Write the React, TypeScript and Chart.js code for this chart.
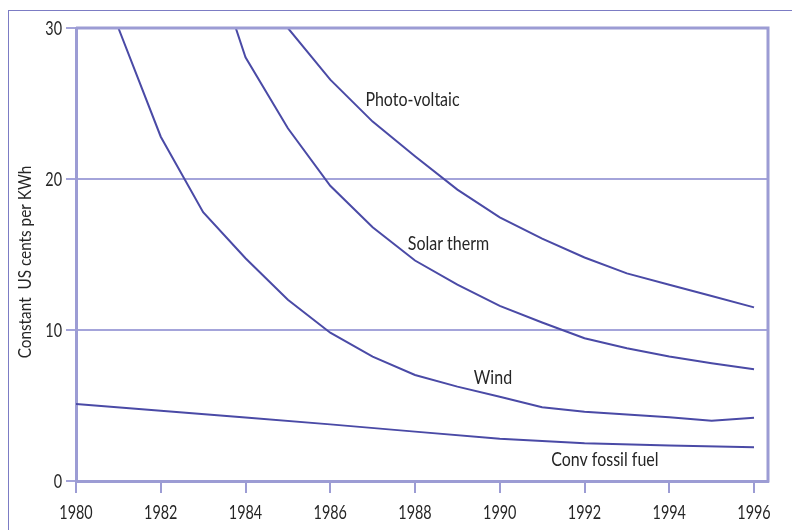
import React, { useEffect, useRef } from "react";
import { Chart, registerables } from "chart.js";

Chart.register(...registerables);

const years = [1980, 1981, 1982, 1983, 1984, 1985, 1986, 1987, 1988, 1989, 1990, 1991, 1992, 1993, 1994, 1995, 1996];
const photoVoltaic = [null, null, null, null, null, 30, 26.58, 23.8, 21.5, 19.3, 17.46, 16.05, 14.8, 13.75, 13.0, 12.25, 11.5];
const solarTherm = [null, null, null, 36.5, 28.06, 23.36, 19.55, 16.8, 14.6, 13.0, 11.6, 10.5, 9.45, 8.79, 8.25, 7.8, 7.4];
const wind = [null, 30, 22.8, 17.8, 14.75, 12.0, 9.82, 8.23, 7.02, 6.25, 5.58, 4.88, 4.59, 4.4, 4.22, 3.99, 4.19];
const fossil = [5.1, null, 4.65, null, 4.2, null, 3.75, null, 3.27, null, 2.8, null, 2.5, null, 2.35, null, 2.23];

const xTicks = [1980, 1982, 1984, 1986, 1988, 1990, 1992, 1994, 1996];
const yTicks = [0, 10, 20, 30];

const seriesLabels = ["Photo-voltaic", "Solar therm", "Wind", "Conv fossil fuel"];
const labelYears = [1987.94, 1988.79, 1989.84, 1992.48];
const labelValues = [24.83, 15.3, 6.4, 0.99];

const yTitle = "Constant  US cents per KWh";

const LINE = "#4a4aa6";
const AXIS = "#9c9cd4";
const GRID = "#a4a4da";
const TEXT = "#262626";
const FONT = "Lato, 'Open Sans', sans-serif";

const toPoints = (vals: (number | null)[]) =>
  years.map((y, i) => ({ x: y, y: vals[i] as any }));

function squeezedText(ctx: CanvasRenderingContext2D, text: string, x: number, y: number, align: CanvasTextAlign, k: number) {
  ctx.save();
  ctx.translate(x, y);
  ctx.scale(k, 1);
  ctx.textAlign = align;
  ctx.fillText(text, 0, 0);
  ctx.restore();
}

export default function App() {
  const ref = useRef<HTMLCanvasElement | null>(null);

  useEffect(() => {
    if (!ref.current) return;
    const annot = {
      id: "annot",
      beforeDraw(chart: any) {
        const ctx = chart.ctx;
        ctx.save();
        ctx.fillStyle = "#ffffff";
        ctx.fillRect(0, 0, chart.width, chart.height);
        ctx.strokeStyle = "#7c7cc4";
        ctx.lineWidth = 1;
        ctx.strokeRect(8.5, 10.5, 900, 900);
        ctx.restore();
      },
      afterDraw(chart: any) {
        const ctx = chart.ctx;
        const { left, right, top, bottom } = chart.chartArea;
        const xs = chart.scales.x;
        const ys = chart.scales.y;
        ctx.save();
        ctx.strokeStyle = AXIS;
        ctx.lineWidth = 3;
        ctx.beginPath();
        ctx.moveTo(left, top);
        ctx.lineTo(right, top);
        ctx.lineTo(right, bottom + 1.5);
        ctx.stroke();

        ctx.fillStyle = TEXT;
        ctx.textBaseline = "alphabetic";
        ctx.font = "20px " + FONT;
        xTicks.forEach((v) => {
          squeezedText(ctx, String(v), xs.getPixelForValue(v), bottom + 38, "center", 0.72);
        });
        yTicks.forEach((v) => {
          squeezedText(ctx, String(v), left - 14, ys.getPixelForValue(v) + 7, "right", 0.72);
        });

        ctx.font = "20px " + FONT;
        seriesLabels.forEach((s, i) => {
          squeezedText(ctx, s, xs.getPixelForValue(labelYears[i]), ys.getPixelForValue(labelValues[i]), "center", 0.8);
        });

        ctx.save();
        ctx.translate(26, ys.getPixelForValue(14.5));
        ctx.rotate(-Math.PI / 2);
        ctx.textBaseline = "middle";
        ctx.font = "17px " + FONT;
        squeezedText(ctx, yTitle, 0, 0, "center", 0.9);
        ctx.restore();
        ctx.restore();
      },
    };

    const ds = (label: string, vals: (number | null)[]) => ({
      label,
      data: toPoints(vals),
      borderColor: LINE,
      borderWidth: 2,
      pointRadius: 0,
      tension: 0,
      spanGaps: true,
      fill: false,
    });

    const chart = new Chart(ref.current, {
      type: "line",
      data: {
        datasets: [
          ds("Photo-voltaic", photoVoltaic),
          ds("Solar therm", solarTherm),
          ds("Wind", wind),
          ds("Conv fossil fuel", fossil),
        ],
      },
      options: {
        responsive: false,
        animation: false,
        devicePixelRatio: 1,
        layout: { padding: { top: 28, right: 24, left: 0, bottom: 0 } },
        plugins: { legend: { display: false }, tooltip: { enabled: false } },
        scales: {
          x: {
            type: "linear",
            min: 1980,
            max: 1996.33,
            afterFit: (s: any) => { s.height = 49; },
            afterBuildTicks: (s: any) => { s.ticks = xTicks.map((v) => ({ value: v })); },
            border: { display: true, color: AXIS, width: 3 },
            grid: { drawOnChartArea: false, drawTicks: true, tickLength: 12, color: AXIS, lineWidth: 2 },
            ticks: { display: false },
          },
          y: {
            type: "linear",
            min: 0,
            max: 30,
            afterFit: (s: any) => { s.width = 76; },
            afterBuildTicks: (s: any) => { s.ticks = yTicks.map((v) => ({ value: v })); },
            border: { display: true, color: AXIS, width: 3 },
            grid: { drawOnChartArea: true, drawTicks: true, tickLength: 10, color: GRID, lineWidth: 2 },
            ticks: { display: false },
          },
        },
      },
      plugins: [annot],
    } as any);
    return () => chart.destroy();
  }, []);

  return (
    <div style={{ position: "fixed", left: 0, top: 0, width: 792, height: 530, background: "#fff" }}>
      <canvas ref={ref} width={792} height={530} style={{ display: "block" }} />
    </div>
  );
}
